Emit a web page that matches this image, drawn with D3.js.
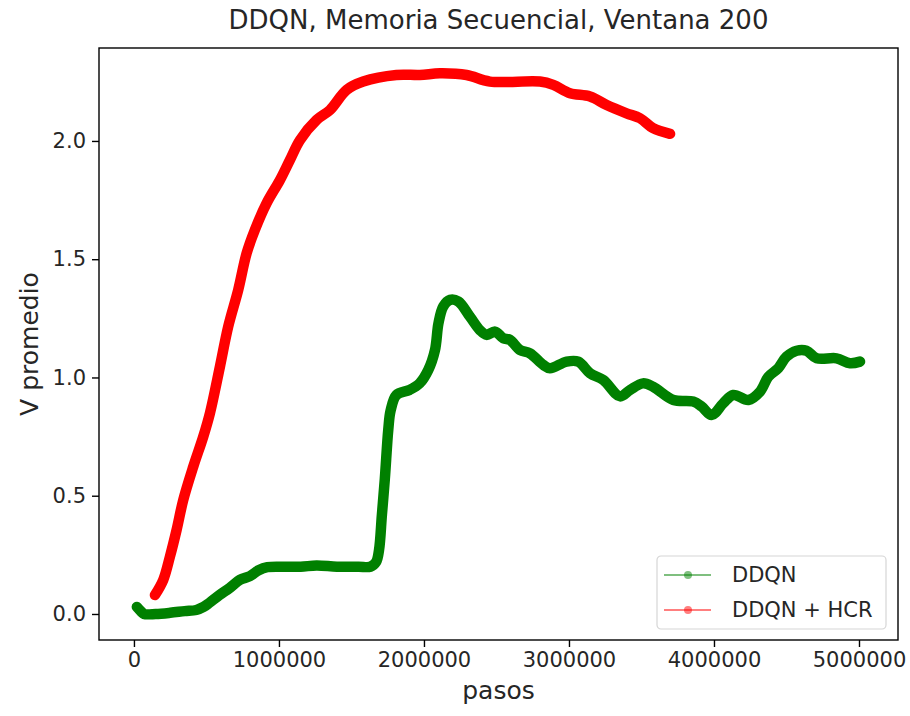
<!DOCTYPE html>
<html>
<head>
<meta charset="utf-8">
<script src="https://cdn.jsdelivr.net/npm/d3@7/dist/d3.min.js"></script>
<style>
    body { margin: 0; background: #fff; }
    text { font-family: "DejaVu Sans", sans-serif; fill: #262626; }
</style>
</head>
<body>
<svg id="chart" width="910" height="716"></svg>
<script>

// DDQN (pasos en millones, V promedio)
const pasosDDQN = [0.02, 0.05, 0.07, 0.15, 0.25, 0.35, 0.43, 0.48, 0.52, 0.59, 0.66, 0.73, 0.80, 0.86, 0.92,
    1.03, 1.15, 1.26, 1.40, 1.55, 1.63, 1.67, 1.69, 1.71, 1.73, 1.754, 1.77, 1.81, 1.90, 1.97,
    2.03, 2.076, 2.10, 2.133, 2.18, 2.237, 2.317, 2.386, 2.432, 2.49, 2.547, 2.593, 2.662, 2.731, 2.823, 2.869, 2.984,
    3.064, 3.145, 3.237, 3.352, 3.421, 3.51, 3.58, 3.72, 3.857, 3.915, 3.984,
    4.064, 4.133, 4.237, 4.317, 4.375, 4.443, 4.50, 4.57, 4.638, 4.708, 4.845, 4.938, 5.007]
const vDDQN = [0.03, 0.01, 0.0, 0.0, 0.005, 0.012, 0.017, 0.03, 0.047, 0.08, 0.11, 0.144, 0.16, 0.185, 0.198,
    0.2, 0.2, 0.205, 0.2, 0.2, 0.2, 0.22, 0.27, 0.42, 0.57, 0.78, 0.86, 0.926, 0.947, 0.975,
    1.032, 1.116, 1.229, 1.30, 1.328, 1.321, 1.257, 1.20, 1.18, 1.194, 1.166, 1.159, 1.116, 1.102, 1.053, 1.039, 1.067,
    1.067, 1.018, 0.989, 0.92, 0.947, 0.975, 0.961, 0.905, 0.898, 0.877, 0.841,
    0.891, 0.926, 0.905, 0.94, 1.003, 1.039, 1.088, 1.113, 1.113, 1.081, 1.081, 1.06, 1.067]

// DDQN + HCR
const pasosHCR = [0.145, 0.202, 0.248, 0.294, 0.34, 0.409, 0.478, 0.524, 0.593, 0.650, 0.719, 0.777, 0.834, 0.915, 1.007,
    1.076, 1.145, 1.26, 1.352, 1.467, 1.581, 1.81, 1.972, 2.11, 2.294, 2.455, 2.80, 2.892,
    3.007, 3.145, 3.26, 3.397, 3.49, 3.58, 3.697]
const vHCR = [0.08, 0.144, 0.242, 0.355, 0.482, 0.623, 0.75, 0.849, 1.046, 1.215, 1.37, 1.525, 1.624, 1.737, 1.835,
    1.92, 2.004, 2.089, 2.131, 2.216, 2.251, 2.279, 2.279, 2.286, 2.279, 2.251, 2.251, 2.237,
    2.202, 2.188, 2.152, 2.117, 2.096, 2.054, 2.03]

const xTicks = [0, 1000000, 2000000, 3000000, 4000000, 5000000]
const yTicks = [0.0, 0.5, 1.0, 1.5, 2.0]

const series = [
    { name: 'DDQN', color: '#008000', x: pasosDDQN, y: vDDQN },
    { name: 'DDQN + HCR', color: '#ff0000', x: pasosHCR, y: vHCR }
]

const plotLeft = 99, plotRight = 898, plotTop = 48, plotBottom = 640

const svg = d3.select('#chart')

const xscale = d3.scaleLinear().domain([ -241000, 5269000 ]).range([ plotLeft, plotRight ])
const yscale = d3.scaleLinear().domain([ -0.11, 2.393 ]).range([ plotBottom, plotTop ])

const line = d3.line()
    .x(d => xscale(d[0] * 1e6))
    .y(d => yscale(d[1]))
    .curve(d3.curveCatmullRom.alpha(0.5))

// curves
for (const s of series) {
    const pts = s.x.map((x, i) => [ x, s.y[i] ])
    svg.append('path')
        .datum(pts)
        .attr('d', line)
        .attr('fill', 'none')
        .attr('stroke', s.color)
        .attr('stroke-width', 10.5)
        .attr('stroke-linejoin', 'round')
        .attr('stroke-linecap', 'round')
}

// axes
const xAxis = svg.append('g')
    .attr('transform', `translate(0,${plotBottom})`)
    .call(d3.axisBottom(xscale).tickValues(xTicks).tickFormat(d3.format('d')).tickSizeOuter(0).tickSize(7).tickPadding(5))
const yAxis = svg.append('g')
    .attr('transform', `translate(${plotLeft},0)`)
    .call(d3.axisLeft(yscale).tickValues(yTicks).tickFormat(d3.format('.1f')).tickSizeOuter(0).tickSize(7).tickPadding(6))

for (const g of [ xAxis, yAxis ]) {
    g.select('.domain').remove()
    g.selectAll('.tick line').attr('stroke', '#000').attr('stroke-width', 1.4)
    g.selectAll('.tick text').attr('font-size', 21).attr('font-family', '"DejaVu Sans", sans-serif').attr('fill', '#262626')
}

// frame
svg.append('rect')
    .attr('x', plotLeft).attr('y', plotTop)
    .attr('width', plotRight - plotLeft).attr('height', plotBottom - plotTop)
    .attr('fill', 'none').attr('stroke', '#000').attr('stroke-width', 1.4)

// titles
svg.append('text')
    .attr('x', (plotLeft + plotRight) / 2).attr('y', 29)
    .attr('text-anchor', 'middle').attr('font-size', 26)
    .text('DDQN, Memoria Secuencial, Ventana 200')

svg.append('text')
    .attr('x', (plotLeft + plotRight) / 2).attr('y', 699)
    .attr('text-anchor', 'middle').attr('font-size', 25)
    .text('pasos')

svg.append('text')
    .attr('transform', `translate(38,${(plotTop + plotBottom) / 2}) rotate(-90)`)
    .attr('text-anchor', 'middle').attr('font-size', 25)
    .text('V promedio')

// legend
const legend = svg.append('g').attr('transform', 'translate(657,556)')
legend.append('rect')
    .attr('width', 229).attr('height', 73).attr('rx', 4)
    .attr('fill', '#fff').attr('fill-opacity', 0.8)
    .attr('stroke', '#d6d6d6').attr('stroke-width', 1.2)

series.forEach((s, i) => {
    const yy = 19 + i * 35
    legend.append('line')
        .attr('x1', 7).attr('x2', 54).attr('y1', yy).attr('y2', yy)
        .attr('stroke', s.color).attr('stroke-opacity', 0.5).attr('stroke-width', 2.2)
    legend.append('circle')
        .attr('cx', 31).attr('cy', yy).attr('r', 4)
        .attr('fill', s.color).attr('fill-opacity', 0.5)
    legend.append('text')
        .attr('x', 75).attr('y', yy + 7)
        .attr('font-size', 21)
        .text(s.name)
})

</script>
</body>
</html>
